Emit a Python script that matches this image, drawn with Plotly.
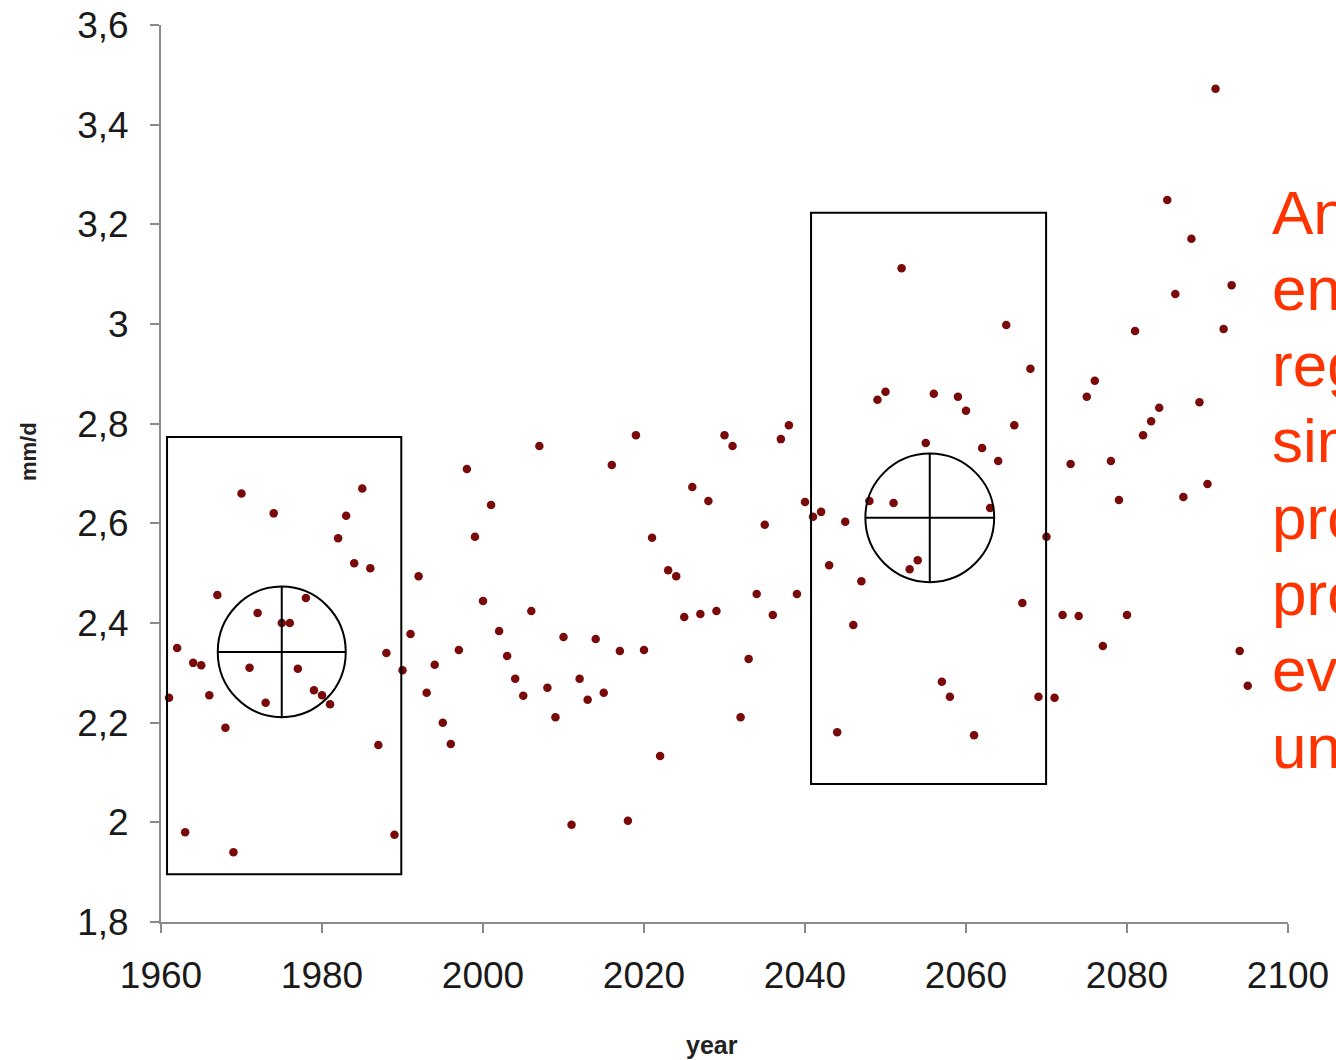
import plotly.graph_objects as go

# ---- data ----
years = list(range(1961, 2096))
precip = [
    2.25, 2.35, 1.98, 2.32, 2.315, 2.255, 2.456, 2.19, 1.94, 2.66,
    2.31, 2.42, 2.24, 2.62, 2.40, 2.40, 2.308, 2.45, 2.265, 2.255,
    2.237, 2.57, 2.615, 2.52, 2.67, 2.51, 2.155, 2.34, 1.975, 2.305,
    2.378, 2.494, 2.26, 2.316, 2.20, 2.157, 2.346, 2.709, 2.573, 2.444,
    2.637, 2.384, 2.334, 2.288, 2.254, 2.424, 2.755, 2.27, 2.211, 2.372,
    1.995, 2.288, 2.246, 2.368, 2.26, 2.717, 2.344, 2.003, 2.777, 2.346,
    2.571, 2.133, 2.506, 2.494, 2.412, 2.673, 2.418, 2.645, 2.424, 2.777,
    2.755, 2.211, 2.328, 2.458, 2.597, 2.416, 2.769, 2.797, 2.458, 2.643,
    2.613, 2.623, 2.516, 2.181, 2.603, 2.396, 2.484, 2.645, 2.848, 2.864,
    2.641, 3.112, 2.508, 2.526, 2.761, 2.86, 2.282, 2.252, 2.854, 2.826,
    2.175, 2.751, 2.631, 2.725, 2.998, 2.797, 2.44, 2.91, 2.252, 2.573,
    2.25, 2.416, 2.719, 2.414, 2.854, 2.886, 2.354, 2.725, 2.647, 2.416,
    2.986, 2.777, 2.805, 2.832, 3.249, 3.06, 2.653, 3.171, 2.843, 2.679,
    3.472, 2.99, 3.078, 2.344, 2.274,
]
x_ticks = [1960, 1980, 2000, 2020, 2040, 2060, 2080, 2100]
x_ticktext = ["1960", "1980", "2000", "2020", "2040", "2060", "2080", "2100"]
y_ticks = [1.8, 2.0, 2.2, 2.4, 2.6, 2.8, 3.0, 3.2, 3.4, 3.6]
y_ticktext = ["1,8", "2", "2,2", "2,4", "2,6", "2,8", "3", "3,2", "3,4", "3,6"]

# periods (box) and their mean markers (circle)
periods = [(1960.75, 1989.85, 1.896, 2.773), (2040.75, 2069.95, 2.077, 3.223)]
circles = [(1975.0, 2.342, 7.95, 0.131), (2055.5, 2.611, 8.0, 0.129)]

side_lines = ["An", "ensemble", "regional", "simulations", "provides",
              "probabilistic", "evaluation", "uncertainties"]

W, H = 1336, 1060
L, R, T, B = 161, 48, 25, 138
ph = H - T - B

fig = go.Figure()
fig.add_trace(go.Scatter(
    x=years, y=precip, mode="markers",
    marker=dict(color="#7a0a0a", size=8.5, line=dict(width=0)),
    showlegend=False, hoverinfo="x+y",
))

shapes = []
for x0, x1, y0, y1 in periods:
    shapes.append(dict(type="rect", xref="x", yref="y", x0=x0, x1=x1, y0=y0, y1=y1,
                       line=dict(color="black", width=2), layer="above"))
for cx, cy, rx, ry in circles:
    shapes.append(dict(type="circle", xref="x", yref="y", x0=cx - rx, x1=cx + rx,
                       y0=cy - ry, y1=cy + ry, line=dict(color="black", width=2)))
    shapes.append(dict(type="line", xref="x", yref="y", x0=cx - rx, x1=cx + rx,
                       y0=cy, y1=cy, line=dict(color="black", width=2)))
    shapes.append(dict(type="line", xref="x", yref="y", x0=cx, x1=cx,
                       y0=cy - ry, y1=cy + ry, line=dict(color="black", width=2)))

annotations = []
for i, t in enumerate(side_lines):
    cy_px = 212 + 76.3 * i
    annotations.append(dict(
        text=t, xref="paper", yref="paper",
        x=(1270 - L) / (W - L - R), y=(H - B - cy_px) / ph,
        xanchor="left", yanchor="middle", showarrow=False,
        font=dict(family="Liberation Sans, Arial", size=62, color="#ff3300"),
    ))
annotations.append(dict(
    text="<b>year</b>", xref="paper", yref="paper",
    x=(712 - L) / (W - L - R), y=(H - B - 1045) / ph,
    xanchor="center", yanchor="middle", showarrow=False,
    font=dict(family="Liberation Sans, Arial", size=25, color="#222"),
))
annotations.append(dict(
    text="<b>mm/d</b>", xref="paper", yref="paper",
    x=(28 - L) / (W - L - R), y=(H - B - 452) / ph,
    xanchor="center", yanchor="middle", showarrow=False, textangle=-90,
    font=dict(family="Liberation Sans, Arial", size=22, color="#222"),
))

axis_common = dict(
    showgrid=False, zeroline=False, showline=True, linecolor="#8a8a8a", linewidth=2,
    ticks="outside", ticklen=9, tickwidth=1.5, tickcolor="#8a8a8a",
    tickfont=dict(family="Liberation Sans, Arial", size=37, color="#1a1a1a"),
)

fig.update_layout(
    width=W, height=H,
    margin=dict(l=L, r=R, t=T, b=B, pad=0),
    paper_bgcolor="white", plot_bgcolor="white",
    xaxis=dict(range=[1960, 2100], tickvals=x_ticks, ticktext=x_ticktext,
               ticklabelstandoff=11, automargin=False, **axis_common),
    yaxis=dict(range=[1.8, 3.6], tickvals=y_ticks, ticktext=y_ticktext,
               ticklabelstandoff=14, automargin=False, **axis_common),
    shapes=shapes, annotations=annotations,
    font=dict(family="Liberation Sans, Arial"),
)

fig.write_html(
    "out.html",
    config={"displayModeBar": False},
    post_script="document.body.style.margin='0';document.body.style.overflow='hidden';",
)
